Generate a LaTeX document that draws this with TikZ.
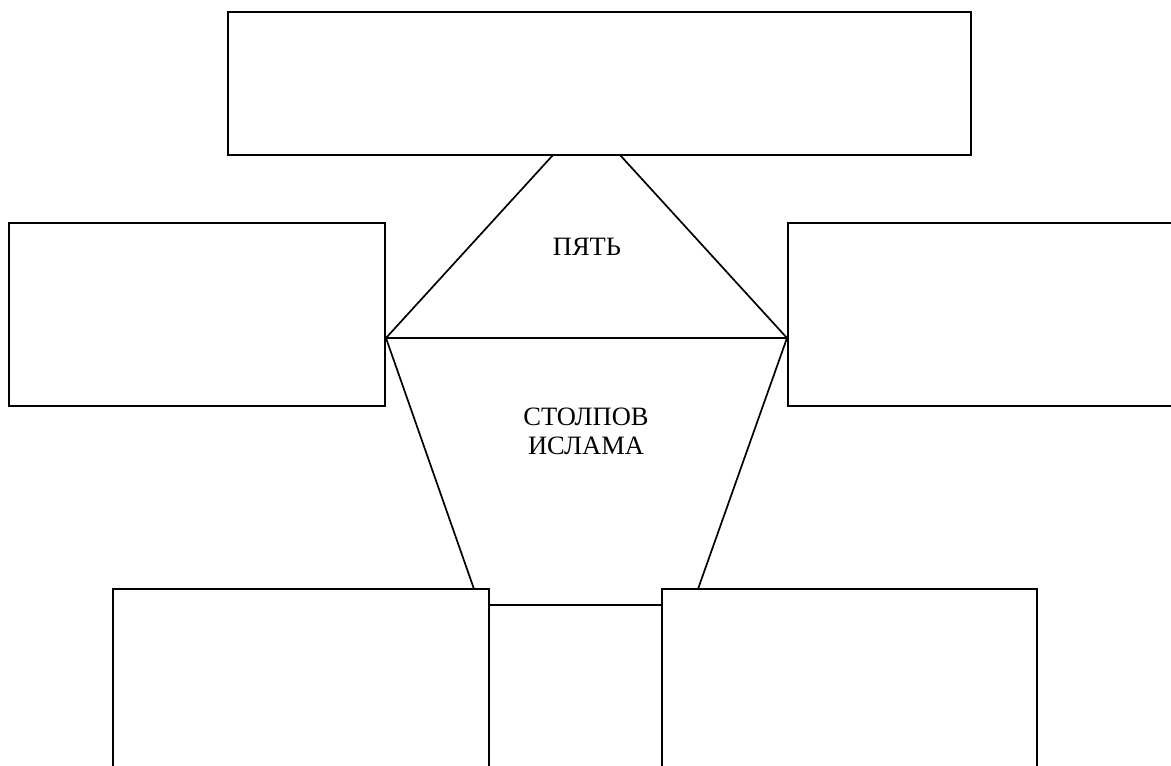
\documentclass[tikz,border=0pt]{standalone}
\usepackage{fontspec}
\setmainfont{Liberation Serif}
\begin{document}
\begin{tikzpicture}[x=1pt,y=-1pt,
  ln/.style={line width=1.7pt,black},
  lbl/.style={font=\fontsize{26.5}{29}\selectfont,align=center,inner sep=0pt}]
\useasboundingbox[fill=white] (0,0) rectangle (1171,766);
% boxes
\draw[ln] (228,12) rectangle (971,155);
\draw[ln] (9,223) rectangle (385,406);
\draw[ln] (1175,223) -- (788,223) -- (788,406) -- (1175,406);
\draw[ln] (113,770) -- (113,589) -- (489,589) -- (489,770);
\draw[ln] (662,770) -- (662,589) -- (1037,589) -- (1037,770);
% coordinates of the pentagon figure
\coordinate (t1) at (553,155);
\coordinate (t2) at (620,155);
\coordinate (L) at (386,338);
\coordinate (R) at (787,338);
\coordinate (b1) at (474,589);
\coordinate (b2) at (698,589);
\coordinate (m1) at (489,605);
\coordinate (m2) at (662,605);
\draw[ln] (t1) -- (L) -- (R) -- (t2);
\draw[ln] (L) -- (b1);
\draw[ln] (R) -- (b2);
\draw[ln] (m1) -- (m2);
% texts
\node[lbl] (five) at (587,247) {ПЯТЬ};
\node[lbl] (pillars) at (586,431) {СТОЛПОВ\\ИСЛАМА};
\end{tikzpicture}
\end{document}
